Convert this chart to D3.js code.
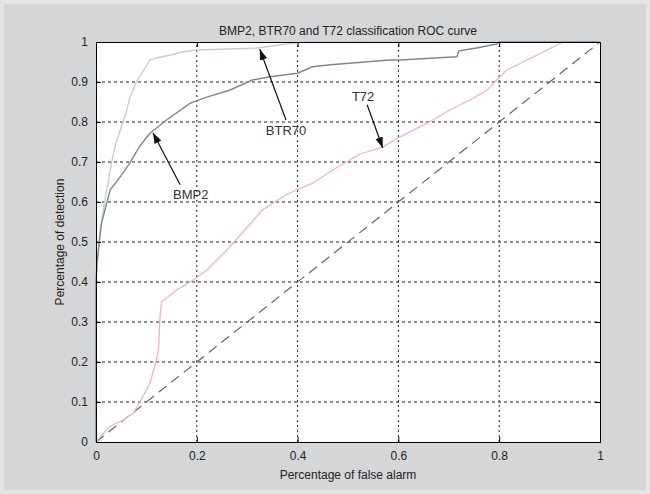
<!DOCTYPE html>
<html>
<head>
<meta charset="utf-8">
<script src="https://cdn.jsdelivr.net/npm/d3@7"></script>
<style>
  body { margin: 0; background: #e2e4e6; }
  svg { display: block; font-family: "Liberation Sans", Arial, sans-serif; }
</style>
</head>
<body>
<div id="chart"></div>
<script>
// ROC curves (false alarm rate, detection rate)
const btr70X = [0, 0, 0.008, 0.018, 0.031, 0.038, 0.06, 0.067, 0.08, 0.10, 0.107, 0.12, 0.147, 0.17, 0.2, 0.32, 0.39, 0.42, 1];
const btr70Y = [0, 0.4, 0.53, 0.605, 0.70, 0.74, 0.825, 0.86, 0.9, 0.94, 0.955, 0.96, 0.967, 0.975, 0.98, 0.985, 0.997, 1, 1];

const bmp2X = [0, 0, 0.002, 0.011, 0.028, 0.048, 0.067, 0.087, 0.107, 0.14, 0.187, 0.22, 0.266, 0.31, 0.345, 0.4, 0.43, 0.465, 0.583, 0.603, 0.716, 0.72, 0.755, 0.795, 0.8, 1];
const bmp2Y = [0, 0.4, 0.45, 0.547, 0.63, 0.663, 0.697, 0.74, 0.772, 0.805, 0.847, 0.862, 0.88, 0.905, 0.913, 0.922, 0.938, 0.943, 0.955, 0.955, 0.963, 0.978, 0.985, 0.995, 1, 1];

const t72X = [0, 0.008, 0.028, 0.054, 0.074, 0.087, 0.107, 0.12, 0.124, 0.127, 0.13, 0.16, 0.193, 0.22, 0.26, 0.33, 0.38, 0.43, 0.47, 0.524, 0.57, 0.603, 0.657, 0.702, 0.742, 0.776, 0.795, 0.815, 0.855, 0.895, 0.927, 1];
const t72Y = [0, 0.013, 0.04, 0.055, 0.072, 0.1, 0.147, 0.205, 0.23, 0.313, 0.35, 0.38, 0.405, 0.43, 0.48, 0.58, 0.62, 0.647, 0.68, 0.72, 0.738, 0.763, 0.797, 0.83, 0.855, 0.88, 0.905, 0.93, 0.955, 0.98, 1, 1];

const chanceX = [0, 1];
const chanceY = [0, 1];

const xTicks = [0, 0.2, 0.4, 0.6, 0.8, 1];
const yTicks = [0, 0.1, 0.2, 0.3, 0.4, 0.5, 0.6, 0.7, 0.8, 0.9, 1];

// text labels with arrow: label centre, arrow tail, arrow head (data units)
const labels = [
  { text: "BTR70", at: [0.377, 0.78], from: [0.377, 0.805], to: [0.325, 0.982] },
  { text: "BMP2", at: [0.188, 0.62], from: [0.167, 0.643], to: [0.113, 0.773] },
  { text: "T72", at: [0.53, 0.865], from: [0.538, 0.843], to: [0.569, 0.735] }
];

const width = 650, height = 494;
const margin = { left: 96, right: 50, top: 42, bottom: 52 };

const svg = d3.select('#chart').append('svg')
  .attr('width', width)
  .attr('height', height);

svg.append('rect')
  .attr('x', 4).attr('y', 4)
  .attr('width', width - 8).attr('height', height - 8)
  .attr('fill', '#d4d6d8');

const x = d3.scaleLinear().domain([0, 1]).range([margin.left, width - margin.right]);
const y = d3.scaleLinear().domain([0, 1]).range([height - margin.bottom, margin.top]);

svg.append('rect')
  .attr('x', x(0)).attr('y', y(1))
  .attr('width', x(1) - x(0)).attr('height', y(0) - y(1))
  .attr('fill', '#ffffff');

// dotted grid
svg.append('g').selectAll('line')
  .data(xTicks.slice(1, -1))
  .join('line')
  .attr('x1', d => x(d)).attr('x2', d => x(d))
  .attr('y1', y(0)).attr('y2', y(1))
  .attr('stroke', '#222').attr('stroke-dasharray', '2,3');

svg.append('g').selectAll('line')
  .data(yTicks.slice(1, -1))
  .join('line')
  .attr('x1', x(0)).attr('x2', x(1))
  .attr('y1', d => y(d)).attr('y2', d => y(d))
  .attr('stroke', '#222').attr('stroke-dasharray', '3,3');

const line = d3.line().x(d => x(d[0])).y(d => y(d[1]));
const zip = (a, b) => a.map((v, i) => [v, b[i]]);

svg.append('path')
  .datum(zip(chanceX, chanceY))
  .attr('d', line)
  .attr('fill', 'none')
  .attr('stroke', '#666')
  .attr('stroke-width', 1.2)
  .attr('stroke-dasharray', '10,6');

svg.append('path')
  .datum(zip(t72X, t72Y))
  .attr('d', line)
  .attr('fill', 'none')
  .attr('stroke', '#ebb6bb')
  .attr('stroke-width', 1.3);

svg.append('path')
  .datum(zip(btr70X, btr70Y))
  .attr('d', line)
  .attr('fill', 'none')
  .attr('stroke', '#c3cdc8')
  .attr('stroke-width', 1.3);

svg.append('path')
  .datum(zip(bmp2X, bmp2Y))
  .attr('d', line)
  .attr('fill', 'none')
  .attr('stroke', '#7a8996')
  .attr('stroke-width', 1.4);

// axes box with inward ticks
const xAxis = d3.axisBottom(x).tickValues(xTicks).tickSize(-5).tickPadding(9).tickFormat(d3.format('~g'));
const yAxis = d3.axisLeft(y).tickValues(yTicks).tickSize(-5).tickPadding(8).tickFormat(d3.format('~g'));

svg.append('g').attr('transform', `translate(0,${y(0)})`).call(xAxis);
svg.append('g').attr('transform', `translate(${x(0)},0)`).call(yAxis);
svg.append('g').attr('transform', `translate(0,${y(1)})`)
  .call(d3.axisTop(x).tickValues(xTicks).tickSize(-5).tickFormat(''));
svg.append('g').attr('transform', `translate(${x(1)},0)`)
  .call(d3.axisRight(y).tickValues(yTicks).tickSize(-5).tickFormat(''));

svg.selectAll('.domain').attr('stroke', '#000');
svg.selectAll('.tick line').attr('stroke', '#000');
svg.selectAll('.tick text').attr('font-size', 12).attr('fill', '#222')
  .attr('font-family', '"Liberation Sans", Arial, sans-serif');

// arrows
svg.append('defs').append('marker')
  .attr('id', 'head')
  .attr('viewBox', '0 0 10 10')
  .attr('refX', 10).attr('refY', 5)
  .attr('markerWidth', 9).attr('markerHeight', 9)
  .attr('orient', 'auto')
  .append('path').attr('d', 'M0,1.5 L10,5 L0,8.5 Z').attr('fill', '#111');

svg.append('g').selectAll('line')
  .data(labels)
  .join('line')
  .attr('x1', d => x(d.from[0])).attr('y1', d => y(d.from[1]))
  .attr('x2', d => x(d.to[0])).attr('y2', d => y(d.to[1]))
  .attr('stroke', '#111').attr('stroke-width', 1.2)
  .attr('marker-end', 'url(#head)');

svg.append('g').selectAll('text')
  .data(labels)
  .join('text')
  .attr('x', d => x(d.at[0])).attr('y', d => y(d.at[1]))
  .attr('dy', '0.35em')
  .attr('text-anchor', 'middle')
  .attr('font-size', 13)
  .attr('fill', '#333')
  .text(d => d.text);

// titles
svg.append('text')
  .attr('x', (x(0) + x(1)) / 2).attr('y', 35)
  .attr('text-anchor', 'middle')
  .attr('font-size', 12).attr('fill', '#222')
  .text('BMP2, BTR70 and T72 classification ROC curve');

svg.append('text')
  .attr('x', (x(0) + x(1)) / 2).attr('y', 479)
  .attr('text-anchor', 'middle')
  .attr('font-size', 12).attr('fill', '#222')
  .text('Percentage of false alarm');

svg.append('text')
  .attr('transform', `translate(64,${(y(0) + y(1)) / 2}) rotate(-90)`)
  .attr('text-anchor', 'middle')
  .attr('font-size', 12).attr('fill', '#222')
  .text('Percentage of detection');
</script>
</body>
</html>
